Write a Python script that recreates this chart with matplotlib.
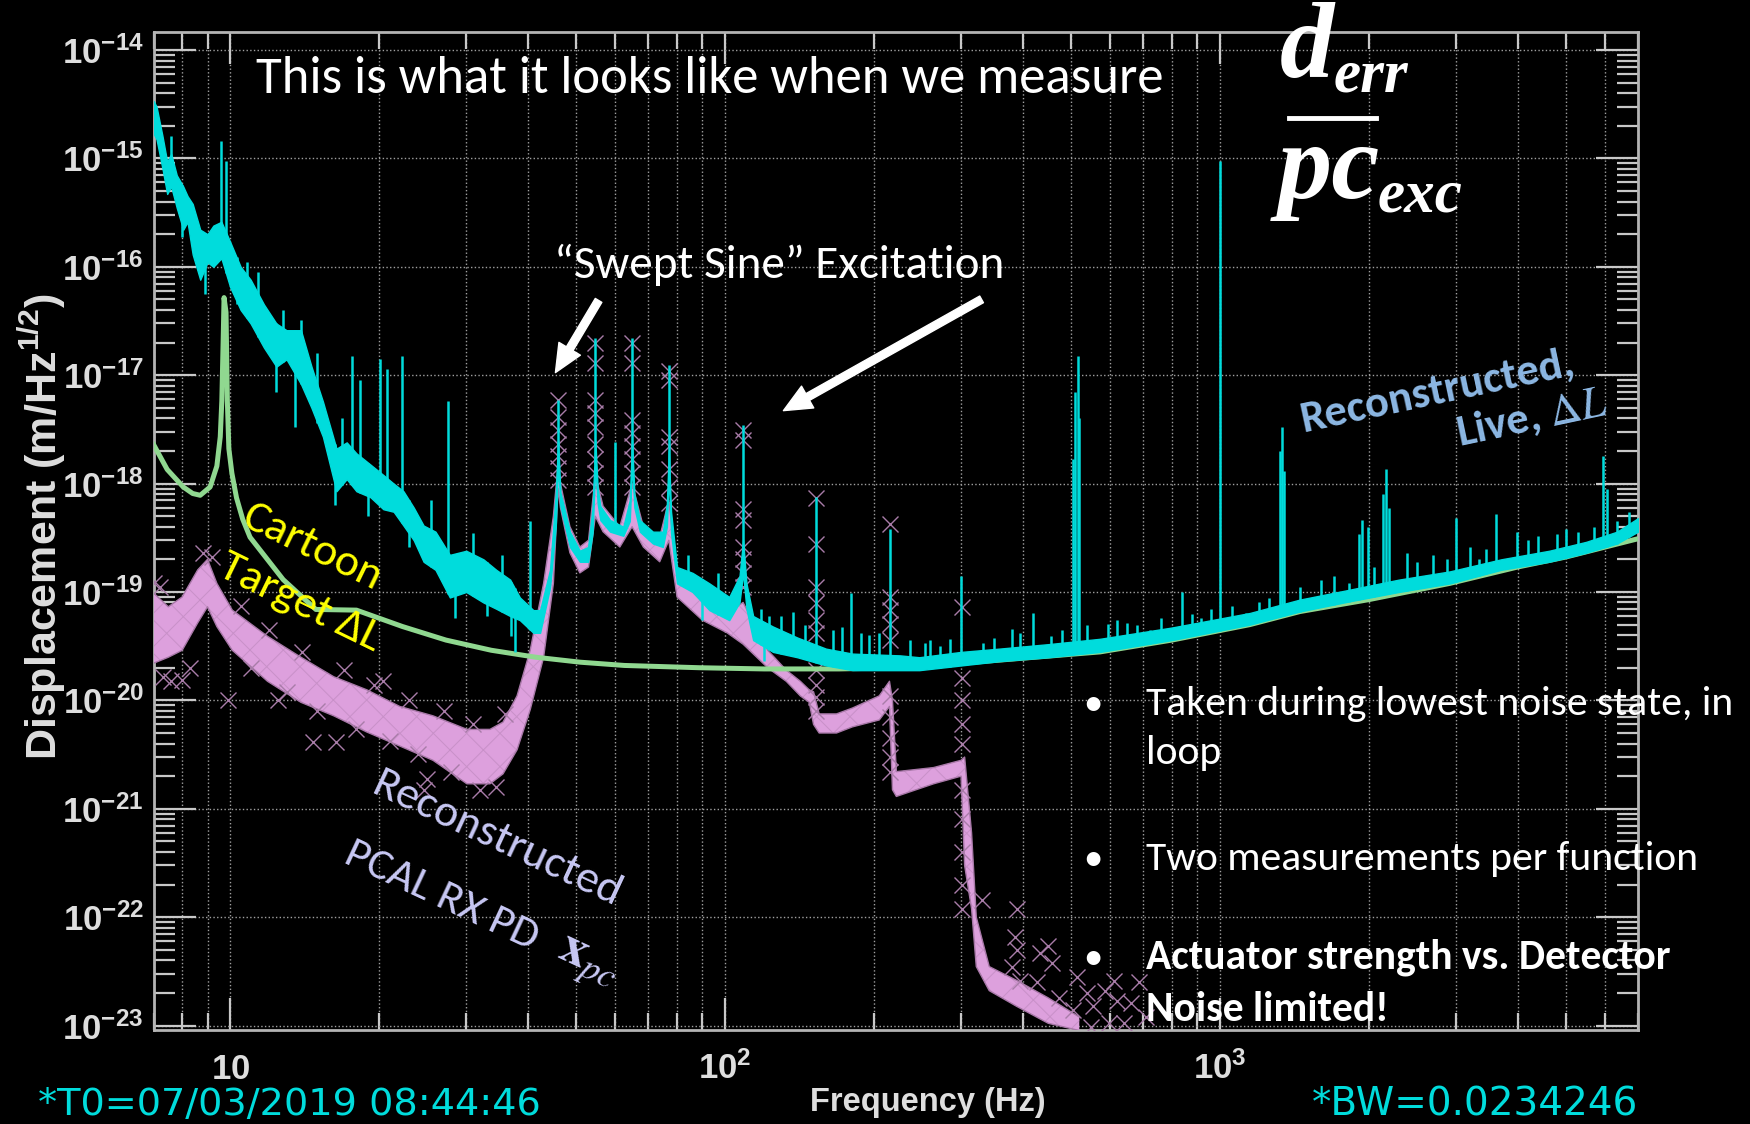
import numpy as np
import matplotlib
matplotlib.use("Agg")
import matplotlib.pyplot as plt
from matplotlib import font_manager
from matplotlib.ticker import LogLocator, FixedLocator, FixedFormatter, NullFormatter
from matplotlib.patches import FancyArrowPatch
from matplotlib.lines import Line2D

# ---------------- data ----------------
# cartoon target Delta L (green)
target_f = [7.0, 7.46, 8.04, 8.4, 8.7, 9.11, 9.4, 9.55, 9.62, 9.69, 9.72, 9.81, 9.87,
            9.94, 10.08, 10.3, 10.6, 10.97, 12.8, 14.9, 18.0, 22.3, 27.3, 33.7, 41.5,
            51, 62.6, 89, 120, 170, 226, 300, 400, 573, 800, 1150, 1452, 2000, 2915,
            4000, 5000, 7000]
target_v = [2.3e-18, 1.35e-18, 9.3e-19, 8.1e-19, 7.8e-19, 9.3e-19, 1.45e-18, 2.7e-18,
            5.8e-18, 2.6e-17, 5.2e-17, 3.8e-17, 5.8e-18, 2.1e-18, 1.25e-18, 7.4e-19,
            4.7e-19, 3.2e-19, 1.3e-19, 6.9e-20, 6.8e-20, 4.8e-20, 3.6e-20, 2.9e-20,
            2.5e-20, 2.25e-20, 2.1e-20, 2.0e-20, 1.95e-20, 1.95e-20, 2.0e-20, 2.2e-20,
            2.45e-20, 2.8e-20, 3.6e-20, 5.0e-20, 6.6e-20, 8.5e-20, 1.2e-19, 1.7e-19,
            2.1e-19, 3.1e-19]

# reconstructed live Delta L (cyan): noise band, lower and upper edge
live_f = [7.0, 7.1, 7.3, 7.46, 7.6, 7.8, 8.04, 8.2, 8.4, 8.7, 9.0, 9.25, 9.6, 10.0, 10.5,
          11.0, 11.7, 12.4, 13.0, 13.9, 14.6, 15.4, 16.4, 17.2, 18.0, 19.2, 20.4, 21.4,
          22.4, 23.5, 24.6, 26.0, 27.8, 30.0, 32.5, 34.5, 36.8, 38.5, 41.0, 42.3, 44.3,
          45.5, 46.0, 46.5, 48.6, 50.9, 52.9, 54.0, 54.7, 55.3, 56.0, 58.6, 62.3, 64.2,
          64.9, 65.6, 67.3, 71.5, 74.9, 76.3, 77.0, 77.8, 80, 86, 93, 102, 107, 108.8,
          110.5, 114, 125, 140, 160, 181, 226, 247, 300, 358, 450, 573, 800, 1150, 1450,
          1830, 2300, 2920, 3700, 4630, 5500, 6350, 7000]
live_lo = [1.7e-15, 1.5e-15, 8.0e-16, 4.7e-16, 5.5e-16, 3.5e-16, 2.2e-16, 2.6e-16, 1.3e-16,
           7.6e-17, 1.1e-16, 1.0e-16, 1.2e-16, 6.5e-17, 4.0e-17, 3.0e-17, 1.8e-17, 1.2e-17,
           1.4e-17, 8.3e-18, 5.0e-18, 2.7e-18, 8.5e-19, 1.1e-18, 8.5e-19, 7.5e-19, 5.8e-19,
           5.5e-19, 4.1e-19, 3.0e-19, 1.9e-19, 1.6e-19, 8.9e-20, 1.0e-19, 8.0e-20, 7.0e-20,
           6.0e-20, 5.5e-20, 4.2e-20, 4.2e-20, 1.1e-19, 4.0e-19, 1.5e-18, 6.2e-19, 2.6e-19,
           1.9e-19, 1.9e-19, 3.5e-19, 1.5e-18, 6.5e-19, 4.6e-19, 3.6e-19, 3.3e-19, 4.5e-19,
           1.5e-18, 6.0e-19, 3.6e-19, 2.8e-19, 2.6e-19, 4.0e-19, 1.2e-18, 3.5e-19, 1.2e-19,
           1.0e-19, 6.8e-20, 5.5e-20, 8.0e-20, 1.5e-19, 7.0e-20, 3.6e-20, 2.8e-20, 2.5e-20,
           2.1e-20, 1.9e-20, 1.9e-20, 1.9e-20, 2.1e-20, 2.3e-20, 2.5e-20, 2.8e-20, 3.6e-20,
           5.0e-20, 6.6e-20, 8.2e-20, 1.0e-19, 1.2e-19, 1.6e-19, 1.9e-19, 2.3e-19, 2.8e-19,
           3.6e-19]
live_hi = [3.4e-15, 3.0e-15, 1.6e-15, 9.3e-16, 1.1e-15, 7.0e-16, 5.5e-16, 4.5e-16, 3.8e-16,
           2.2e-16, 2.0e-16, 2.4e-16, 2.6e-16, 1.7e-16, 1.0e-16, 7.6e-17, 4.5e-17, 3.0e-17,
           2.6e-17, 2.6e-17, 1.2e-17, 5.7e-18, 2.1e-18, 2.4e-18, 1.9e-18, 1.5e-18, 1.2e-18,
           1.0e-18, 8.5e-19, 6.0e-19, 4.1e-19, 3.6e-19, 2.2e-19, 2.4e-19, 2.0e-19, 1.6e-19,
           1.3e-19, 8.9e-20, 6.8e-20, 6.8e-20, 1.6e-19, 8.0e-19, 2.5e-18, 8.3e-19, 3.6e-19,
           2.4e-19, 2.6e-19, 6.0e-19, 2.5e-18, 9.0e-19, 6.2e-19, 4.6e-19, 4.0e-19, 7.0e-19,
           2.5e-18, 8.0e-19, 4.6e-19, 3.6e-19, 3.6e-19, 6.5e-19, 2.0e-18, 5.5e-19, 1.7e-19,
           1.5e-19, 1.2e-19, 9.0e-20, 1.4e-19, 3.0e-19, 1.2e-19, 6.0e-20, 4.8e-20, 3.8e-20,
           3.0e-20, 2.7e-20, 2.6e-20, 2.5e-20, 2.8e-20, 3.0e-20, 3.3e-20, 3.7e-20, 4.7e-20,
           6.4e-20, 8.5e-20, 1.05e-19, 1.3e-19, 1.55e-19, 2.0e-19, 2.4e-19, 2.9e-19, 3.6e-19,
           4.8e-19]

# cyan lines sticking up out of the band: frequency (Hz), top value
line_f = [7.6, 9.58, 9.8, 10.8, 11.4, 12.8, 13.9, 15.0, 16.8, 17.6, 18.3, 20.1, 20.7,
          22.2, 25.5, 27.6, 31.0, 35.5, 40.4, 46.0, 54.7, 60.0, 64.9, 77.0, 84, 97,
          108.8, 118, 123, 130, 137, 145, 153, 165, 172, 180, 188, 195, 205, 216, 237,
          254, 260, 272, 285, 300, 332, 350, 380, 395, 420, 456, 480, 505, 510, 516, 520,
          540, 594, 620, 650, 680, 723, 760, 840, 880, 915, 960, 1000, 1060, 1130, 1200,
          1260, 1325, 1335, 1345, 1450, 1600, 1700, 1820, 1910, 1940, 1990, 2050, 2140,
          2170, 2200, 2390, 2500, 2700, 2880, 3000, 3200, 3340, 3450, 3610, 3980, 4200,
          4400, 4800, 5000, 5300, 5700, 5950, 6050, 6350, 6700]
line_v = [1.6e-15, 1.45e-15, 9.4e-16, 1.1e-16, 9e-17, 4e-17, 3.2e-17, 1.6e-17, 4e-18,
          1.5e-17, 9e-18, 1.4e-17, 1.15e-17, 1.5e-17, 7e-19, 5.8e-18, 3.5e-19, 2.2e-19,
          4.5e-19, 5.9e-18, 2.2e-17, 2.4e-18, 2.2e-17, 1.23e-17, 2.2e-19, 1.5e-19, 3.5e-18,
          7e-20, 6e-20, 6e-20, 6.5e-20, 5e-20, 7.6e-19, 4.5e-20, 4.8e-20, 9.8e-20, 4.2e-20,
          4e-20, 4.2e-20, 3.8e-19, 3.6e-20, 3.4e-20, 3.6e-20, 3.2e-20, 3.7e-20, 1.4e-19,
          3.4e-20, 3.8e-20, 4.6e-20, 4.2e-20, 6.4e-20, 3.9e-20, 4.5e-20, 1.7e-18, 7e-18,
          1.5e-17, 4e-18, 5e-20, 5.1e-20, 5.5e-20, 5.2e-20, 5e-20, 4.5e-20, 5.8e-20, 9.9e-20,
          6.2e-20, 5.8e-20, 7e-20, 9.4e-16, 7.5e-20, 6.4e-20, 8e-20, 8.8e-20, 2e-18, 3.3e-18,
          1.3e-18, 1.1e-19, 1.3e-19, 1.4e-19, 1.2e-19, 3.4e-19, 4.6e-19, 4.0e-19, 1.7e-19,
          8e-19, 1.35e-18, 6e-19, 2.3e-19, 1.9e-19, 2.2e-19, 2e-19, 4.8e-19, 2.6e-19, 2e-19,
          2.5e-19, 5.2e-19, 3.6e-19, 3.0e-19, 3.3e-19, 3.4e-19, 3.8e-19, 3.6e-19, 4e-19,
          1.8e-18, 9e-19, 4.5e-19, 5.5e-19]

# cyan lines dipping below the band: frequency (Hz), bottom value
dip_f = [8.0, 8.9, 10.3, 12.4, 13.5, 16.3, 19.0, 23.0, 28.5, 33.0, 37.0, 37.6, 90, 120]
dip_v = [1.9e-16, 5.6e-17, 4.5e-17, 7e-18, 3.3e-18, 6.3e-19, 5e-19, 2.6e-19, 5.7e-20,
         6e-20, 3.9e-20, 2.8e-20, 5.5e-20, 2.3e-20]

# reconstructed PCAL RX PD (pink): dense band of crosses, lower and upper edge
pcal_f = [7.0, 7.5, 8.0, 8.6, 9.0, 9.4, 10.1, 11.9, 13.9, 16.2, 18.9, 22.0, 25.7, 30.1,
          33.5, 35.6, 38.0, 40.4, 43.0, 45.0, 46.0, 46.5, 48.6, 50.9, 53.0, 54.7, 56.7,
          61.3, 64.9, 68.4, 73.8, 77.0, 80, 90, 101, 108.8, 122, 133, 142, 148, 151, 155,
          168, 181, 205, 215, 218, 222, 264, 300, 305, 315, 322, 342, 389, 450, 520]
pcal_lo = [2.2e-20, 2.5e-20, 2.9e-20, 5.2e-20, 7.3e-20, 4.8e-20, 2.9e-20, 1.5e-20, 9.6e-21,
           7.2e-21, 5.1e-21, 3.8e-21, 2.8e-21, 1.7e-21, 1.7e-21, 2.1e-21, 3.5e-21, 8.2e-21,
           2.5e-20, 1.2e-19, 9e-19, 6e-19, 2.3e-19, 1.5e-19, 1.7e-19, 5e-19, 3.6e-19,
           2.6e-19, 4e-19, 2.6e-19, 1.9e-19, 3e-19, 9e-20, 5.5e-20, 4.2e-20, 3.3e-20, 2.0e-20,
           1.5e-20, 1.1e-20, 9.6e-21, 6e-21, 5e-21, 5e-21, 5.7e-21, 6.6e-21, 8.8e-21, 1.5e-21,
           1.3e-21, 1.7e-21, 2.0e-21, 3e-22, 1.2e-22, 3.5e-23, 2.1e-23, 1.5e-23, 1.05e-23,
           9e-24]
pcal_hi = [9.8e-20, 7.3e-20, 9.0e-20, 1.6e-19, 2.0e-19, 1.2e-19, 6.8e-20, 3.9e-20, 2.5e-20,
           1.65e-20, 1.25e-20, 8.8e-21, 7.2e-21, 5.4e-21, 5.4e-21, 6.3e-21, 1.1e-20, 2.9e-20,
           1.2e-19, 5e-19, 1.5e-18, 1.0e-18, 4.0e-19, 2.6e-19, 3.0e-19, 1.2e-18, 6.2e-19,
           4.0e-19, 1.0e-18, 4.0e-19, 3.2e-19, 7e-19, 1.5e-19, 9e-20, 6.4e-20, 8e-20, 2.9e-20,
           1.9e-20, 1.5e-20, 1.25e-20, 1.2e-20, 7.5e-21, 7.5e-21, 8.5e-21, 1.1e-20, 1.5e-20,
           1e-20, 2.2e-21, 2.4e-21, 2.8e-21, 3e-21, 6e-22, 1e-22, 3.5e-23, 2.6e-23, 1.8e-23,
           1.2e-23]

# single crosses (peak columns, band edges, scattered points at the bottom)
cross_f = [46.0] * 7 + [54.7] * 9 + [64.9] * 8 + [77.0] * 7 + [108.8] * 8 + [153] * 10 \
    + [216] * 10 + [301] * 10 \
    + [7.0, 7.3, 8.0, 9.9, 14.7, 16.4, 24.6, 25.0, 20.4, 12.5] \
    + [7.2, 7.6, 8.3, 8.8, 9.2, 10.5, 11.0, 12.0, 13.0, 14.0, 15.0, 17.0, 18.0, 19.5,
       21.0, 23.0, 24.0, 27.0, 28.0, 31.0, 32.0, 34.5, 36.0] \
    + [330, 389, 386, 389, 380, 394, 433, 450, 457, 427, 514, 540, 555, 585, 610, 620,
       660, 688, 710, 597, 550, 640, 505, 473]
cross_v = [5.9e-18, 4.1e-18, 3.1e-18, 2.3e-18, 1.8e-18, 1.4e-18, 1.07e-18] \
    + [2.0e-17, 1.3e-17, 5.9e-18, 4.5e-18, 3.3e-18, 2.3e-18, 1.7e-18, 1.26e-18, 9.3e-19] \
    + [2.0e-17, 1.3e-17, 3.9e-18, 2.9e-18, 2.2e-18, 1.7e-18, 1.26e-18, 9.3e-19] \
    + [1.1e-17, 9.1e-18, 2.7e-18, 2.2e-18, 1.35e-18, 9.3e-19, 6.6e-19] \
    + [3.1e-18, 2.5e-18, 5.8e-19, 4.6e-19, 2.6e-19, 2e-19, 1.5e-19, 1.1e-19] \
    + [7.4e-19, 2.8e-19, 1.1e-19, 7.9e-20, 5.5e-20, 4.2e-20, 1.9e-20, 1.4e-20, 1.07e-20, 8e-21] \
    + [4.2e-19, 8.9e-20, 6.8e-20, 5.1e-20, 3.6e-20, 1.1e-20, 7e-21, 4.5e-21, 3e-21, 2.2e-21] \
    + [7.2e-20, 1.6e-20, 1.0e-20, 6e-21, 4e-21, 1.5e-21, 8e-22, 4e-22, 2e-22, 1.2e-22] \
    + [1.2e-19, 1.65e-20, 1.55e-20, 1.0e-20, 4.1e-21, 4.1e-21, 1.5e-21, 1.9e-21, 1.5e-20, 1.0e-20] \
    + [1.1e-19, 1.5e-20, 2.0e-20, 2.3e-19, 2.1e-19, 7.5e-20, 2.0e-20, 4.5e-20, 1.2e-20,
       2.8e-20, 8e-21, 1.9e-20, 5.5e-21, 1.4e-20, 4.2e-21, 1.0e-20, 3.2e-21, 8e-21, 2.2e-21,
       6e-21, 1.5e-21, 1.6e-21, 7.5e-21] \
    + [1.45e-22, 1.2e-22, 6.6e-23, 5e-23, 3.5e-23, 2.6e-23, 4.7e-23, 5.4e-23, 3.8e-23, 2.5e-23,
       2.8e-23, 2e-23, 1.5e-23, 2.1e-23, 2.6e-23, 1.7e-23, 1.6e-23, 2.5e-23, 1.2e-23, 1.05e-23,
       9.8e-24, 1.05e-23, 1.4e-23, 1.8e-23]

xticks = [10, 100, 1000]
xtick_labels = [r"$\mathbf{10}$", r"$\mathbf{10^{2}}$", r"$\mathbf{10^{3}}$"]
yticks = [10.0 ** e for e in range(-23, -13)]
ytick_labels = [r"$\mathbf{10^{%d}}$" % e for e in range(-23, -13)]

# ---------------- style ----------------
W, H = 1750, 1124
avail = {f.name for f in font_manager.fontManager.ttflist}
sans = "Liberation Sans" if "Liberation Sans" in avail else "DejaVu Sans"
body = next(n for n in ["Carlito", "Lato", "Open Sans"] if n in avail)
serif = next(n for n in ["Liberation Serif", "Tinos", "DejaVu Serif"] if n in avail)

plt.rcParams["font.family"] = [sans, "DejaVu Sans"]
plt.rcParams["mathtext.fontset"] = "custom"
plt.rcParams["mathtext.rm"] = sans
plt.rcParams["mathtext.bf"] = sans + ":bold"
plt.rcParams["mathtext.it"] = sans + ":italic"
plt.rcParams["hatch.linewidth"] = 0.7

cyan = "#00dcdc"
green = "#90d890"
plum = "#dda0dd"
grey = "#dedede"


def fx(px):
    return px / W


def fy(py):
    return 1 - py / H


fig = plt.figure(figsize=(W / 100, H / 100), dpi=100, facecolor="black")
ax = fig.add_axes([fx(153.5), fy(1030), (1638 - 153.5) / W, (1030 - 32) / H])
ax.set_facecolor("black")
ax.set_xscale("log")
ax.set_yscale("log")
ax.set_xlim(7, 7000)
ax.set_ylim(9.1e-24, 1.466e-14)

# curves
ax.plot(target_f, target_v, color=green, lw=3.6, zorder=4)
ax.fill_between(pcal_f, pcal_lo, pcal_hi, facecolor=plum, edgecolor="#c890c8",
                lw=0, hatch="x", zorder=3)
ax.plot(pcal_f, pcal_lo, color="#a878a8", lw=1.0, zorder=3)
ax.plot(pcal_f, pcal_hi, color="#a878a8", lw=1.0, zorder=3)
ax.plot(cross_f, cross_v, ls="none", marker="x", ms=11, mew=1.0, color="#a87ca8", zorder=3)
ax.fill_between(live_f, live_lo, live_hi, color=cyan, lw=1.0, zorder=5)
base = 10 ** np.interp(np.log10(line_f), np.log10(live_f), np.log10(live_lo))
ax.vlines(line_f, base, line_v, color=cyan, lw=1.8, zorder=5)
top = 10 ** np.interp(np.log10(dip_f), np.log10(live_f), np.log10(live_hi))
ax.vlines(dip_f, dip_v, top, color=cyan, lw=1.8, zorder=5)

# axes decoration
for s in ax.spines.values():
    s.set_color("#b4b4b4")
    s.set_linewidth(2)
ax.xaxis.set_major_locator(FixedLocator(xticks))
ax.xaxis.set_major_formatter(FixedFormatter(xtick_labels))
ax.xaxis.set_minor_locator(LogLocator(base=10, subs=np.arange(2, 10), numticks=100))
ax.xaxis.set_minor_formatter(NullFormatter())
ax.yaxis.set_major_locator(FixedLocator(yticks))
ax.yaxis.set_major_formatter(FixedFormatter(ytick_labels))
ax.yaxis.set_minor_locator(LogLocator(base=10, subs=np.arange(2, 10), numticks=100))
ax.yaxis.set_minor_formatter(NullFormatter())
ax.tick_params(which="both", direction="in", top=True, right=True, color="#c8c8c8",
               width=1.6, labelcolor=grey, labelsize=25)
ax.tick_params(axis="y", which="major", length=30, pad=7)
ax.tick_params(axis="y", which="minor", length=15)
ax.tick_params(axis="x", which="major", length=23, pad=35)
ax.tick_params(axis="x", which="minor", length=12)
plt.setp(ax.get_xticklabels(), va="baseline")
ax.grid(True, which="major", ls=":", color="#a0a0a0", lw=1.0)
ax.grid(True, which="minor", axis="x", ls=":", color="#a0a0a0", lw=1.0)
ax.set_axisbelow(True)

fig.text(fx(42), fy(527), r"Displacement (m/Hz$^{\mathbf{1/2}}$)", rotation=90,
         ha="center", va="center", fontsize=31, weight="bold", color=grey)
fig.text(fx(928), fy(1103), "Frequency (Hz)", ha="center", va="center",
         fontsize=23.5, weight="bold", color=grey)
fig.text(fx(38), fy(1115), "*T0=07/03/2019 08:44:46", ha="left", va="baseline",
         fontsize=27.5, color=cyan, family="DejaVu Sans")
fig.text(fx(1638), fy(1115), "*BW=0.0234246", ha="right", va="baseline",
         fontsize=28, color=cyan, family="DejaVu Sans")

# slide annotations
fig.text(fx(256), fy(93), "This is what it looks like when we measure", ha="left",
         va="baseline", fontsize=38, color="white", family=body)
fig.text(fx(1280), fy(77), "d", fontsize=78, color="white", family=serif,
         weight="bold", style="italic", va="baseline")
fig.text(fx(1334), fy(91), "err", fontsize=44, color="white", family=serif,
         weight="bold", style="italic", va="baseline")
fig.add_artist(Line2D([fx(1289), fx(1376)], [fy(118), fy(118)], color="white", lw=3.5))
fig.text(fx(1278), fy(198), "pc", fontsize=78, color="white", family=serif,
         weight="bold", style="italic", va="baseline")
fig.text(fx(1378), fy(212), "exc", fontsize=44, color="white", family=serif,
         weight="bold", style="italic", va="baseline")

fig.text(fx(779), fy(278), "\u201cSwept Sine\u201d Excitation", ha="center",
         va="baseline", fontsize=34, color="white", family=body)
for (x0, y0), (x1, y1) in [((600, 298), (554, 375)), ((984, 298), (781, 412))]:
    fig.add_artist(FancyArrowPatch((fx(x0), fy(y0)), (fx(x1), fy(y1)),
                                   transform=fig.transFigure, color="white",
                                   arrowstyle="simple,head_length=2.0,head_width=1.8,tail_width=0.55",
                                   mutation_scale=10))

fig.text(fx(312), fy(547), "Cartoon", rotation=-26, ha="center", va="center",
         fontsize=33, color="yellow", family=[body, "DejaVu Sans"], rotation_mode="anchor")
fig.text(fx(300), fy(602), "Target \u0394L", rotation=-26, ha="center", va="center",
         fontsize=33, color="yellow", family=[body, "DejaVu Sans"], rotation_mode="anchor")

lav = "#c8c8f4"
fig.text(fx(497), fy(839), "Reconstructed", rotation=-25, ha="center", va="center",
         fontsize=33, color=lav, family=body, rotation_mode="anchor")
fig.text(fx(442), fy(896), "PCAL RX PD", rotation=-25, ha="center", va="center",
         fontsize=32, color=lav, family=body, rotation_mode="anchor")
fig.text(fx(588), fy(962), r"$\mathbf{x}_{pc}$", rotation=-25, ha="center", va="center",
         fontsize=38, color=lav, math_fontfamily="stix", rotation_mode="anchor")

blue = "#8db8e4"
fig.text(fx(1437), fy(391), "Reconstructed,", rotation=12, ha="center", va="center",
         fontsize=32, color=blue, family=body, weight="bold", rotation_mode="anchor")
fig.text(fx(1532), fy(418), r"Live, $\Delta L$", rotation=12, ha="center", va="center",
         fontsize=32, color=blue, family=body, weight="bold", math_fontfamily="stix",
         rotation_mode="anchor")

bullets = [("Taken during lowest noise state, in", 715, "normal"),
           ("loop", 764, "normal"),
           ("Two measurements per function", 870, "normal"),
           ("Actuator strength vs. Detector", 969, "bold"),
           ("Noise limited!", 1021, "bold")]
for txt, yb, wt in bullets:
    if txt not in ("loop", "Noise limited!"):
        fig.text(fx(1093), fy(yb), "\u2022", ha="center", va="baseline", fontsize=28,
                 color="white", family=body)
    fig.text(fx(1146), fy(yb), txt, ha="left", va="baseline", fontsize=30,
             color="white", family=body, weight=wt)

fig.savefig("out.png", dpi=100, facecolor="black")
